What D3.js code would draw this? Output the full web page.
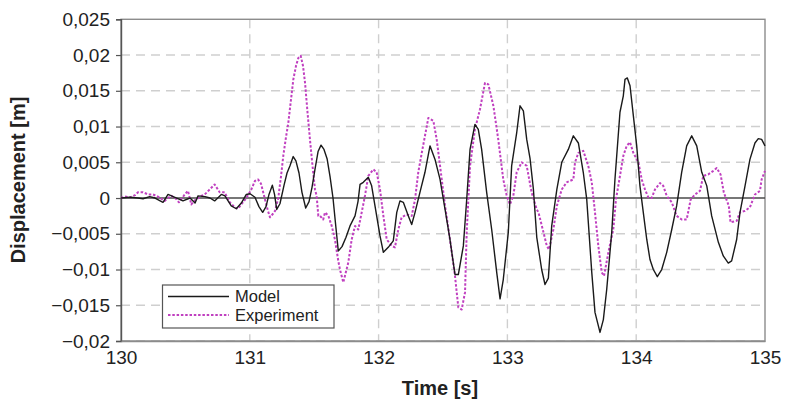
<!DOCTYPE html>
<html>
<head>
<meta charset="utf-8">
<script src="https://cdn.jsdelivr.net/npm/d3@7/dist/d3.min.js"></script>
<style>
  html, body { margin: 0; padding: 0; background: #fff; }
  svg { display: block; font-family: "Liberation Sans", Arial, sans-serif; }
</style>
</head>
<body>
<svg id="chart" width="790" height="405"></svg>
<script>
// Model response: time [s] and displacement [m]
const modelTime = [
  130.000,130.070,130.132,130.171,130.223,130.264,130.326,130.365,130.419,130.481,
  130.536,130.575,130.598,130.652,130.691,130.727,130.779,130.807,130.856,130.895,
  130.934,130.973,131.002,131.040,131.071,131.100,131.126,131.149,131.175,131.192,
  131.209,131.234,131.266,131.289,131.312,131.337,131.358,131.382,131.405,131.434,
  131.460,131.483,131.506,131.530,131.553,131.576,131.600,131.623,131.646,131.669,
  131.687,131.716,131.747,131.778,131.817,131.840,131.856,131.881,131.920,131.946,
  131.972,132.011,132.037,132.075,132.114,132.141,132.166,132.192,132.231,132.257,
  132.283,132.321,132.360,132.399,132.438,132.477,132.516,132.554,132.593,132.619,
  132.658,132.684,132.710,132.748,132.774,132.800,132.839,132.878,132.917,132.943,
  132.968,133.007,133.033,133.072,133.098,133.124,133.150,133.176,133.202,133.228,
  133.266,133.292,133.318,133.344,133.384,133.422,133.473,133.512,133.551,133.589,
  133.616,133.655,133.680,133.719,133.745,133.771,133.810,133.835,133.874,133.900,
  133.913,133.931,133.952,133.978,134.004,134.029,134.055,134.082,134.107,134.133,
  134.164,134.198,134.237,134.276,134.314,134.353,134.392,134.431,134.470,134.509,
  134.548,134.586,134.638,134.676,134.715,134.741,134.780,134.806,134.845,134.883,
  134.922,134.948,134.974,135.000
];
const modelDisp = [
  0.0000,0.0001,0.0000,-0.0001,0.0002,0.0000,-0.0006,0.0005,0.0001,-0.0004,
  0.0000,-0.0007,0.0003,0.0002,0.0000,-0.0004,0.0005,0.0003,-0.0011,-0.0015,
  -0.0007,0.0005,0.0006,0.0001,-0.0012,-0.0020,-0.0012,0.0005,0.0018,0.0005,
  -0.0016,-0.0008,0.0018,0.0035,0.0045,0.0058,0.0052,0.0035,0.0008,-0.0014,
  -0.0005,0.0015,0.0040,0.0065,0.0074,0.0068,0.0055,0.0030,0.0000,-0.0042,
  -0.0074,-0.0068,-0.0055,-0.0039,-0.0025,-0.0005,0.0019,0.0022,0.0029,0.0017,
  -0.0011,-0.0053,-0.0076,-0.0069,-0.0060,-0.0020,-0.0004,-0.0006,-0.0025,-0.0037,
  -0.0020,0.0008,0.0036,0.0073,0.0054,0.0026,-0.0016,-0.0058,-0.0107,-0.0107,
  -0.0067,-0.0002,0.0068,0.0103,0.0096,0.0068,0.0008,-0.0044,-0.0104,-0.0141,
  -0.0114,-0.0048,0.0045,0.0091,0.0129,0.0122,0.0082,0.0055,0.0012,-0.0055,
  -0.0100,-0.0121,-0.0112,-0.0039,0.0012,0.0050,0.0068,0.0087,0.0077,0.0036,
  -0.0002,-0.0104,-0.0160,-0.0188,-0.0170,-0.0128,-0.0048,0.0026,0.0120,0.0143,
  0.0166,0.0168,0.0157,0.0115,0.0073,0.0017,-0.0020,-0.0058,-0.0086,-0.0100,
  -0.0110,-0.0100,-0.0076,-0.0044,-0.0011,0.0036,0.0073,0.0087,0.0073,0.0036,
  0.0017,-0.0025,-0.0062,-0.0081,-0.0091,-0.0088,-0.0058,-0.0020,0.0017,0.0054,
  0.0077,0.0083,0.0082,0.0073
];

// Measured response: time [s] and displacement [m]
const expTime = [
  130.000,130.031,130.070,130.109,130.132,130.171,130.210,130.248,130.287,130.339,
  130.365,130.391,130.427,130.450,130.495,130.520,130.546,130.575,130.623,130.650,
  130.689,130.727,130.766,130.805,130.844,130.883,130.908,130.934,130.973,131.012,
  131.040,131.064,131.087,131.118,131.141,131.157,131.180,131.196,131.221,131.242,
  131.260,131.281,131.299,131.320,131.338,131.359,131.377,131.395,131.413,131.429,
  131.448,131.467,131.487,131.506,131.519,131.532,131.545,131.570,131.584,131.610,
  131.636,131.661,131.687,131.700,131.726,131.765,131.791,131.817,131.842,131.869,
  131.894,131.920,131.959,131.985,132.011,132.037,132.063,132.102,132.127,132.153,
  132.179,132.218,132.257,132.283,132.308,132.335,132.360,132.386,132.425,132.451,
  132.477,132.516,132.554,132.593,132.619,132.645,132.671,132.684,132.710,132.748,
  132.787,132.826,132.852,132.891,132.929,132.968,132.995,133.020,133.046,133.072,
  133.111,133.150,133.188,133.228,133.241,133.280,133.306,133.323,133.357,133.384,
  133.422,133.460,133.512,133.525,133.551,133.589,133.628,133.655,133.680,133.706,
  133.732,133.750,133.784,133.822,133.843,133.874,133.900,133.926,133.952,133.978,
  134.017,134.043,134.068,134.094,134.120,134.146,134.185,134.210,134.237,134.276,
  134.314,134.353,134.392,134.423,134.457,134.495,134.521,134.559,134.599,134.625,
  134.655,134.680,134.719,134.732,134.780,134.806,134.845,134.883,134.922,134.961,
  134.974,135.000
];
const expDisp = [
  0.0000,0.0002,0.0001,0.0004,0.0008,0.0008,0.0005,0.0005,0.0002,-0.0004,
  0.0000,0.0003,-0.0001,-0.0006,0.0005,0.0010,-0.0009,-0.0003,0.0003,0.0005,
  0.0012,0.0019,0.0008,0.0008,-0.0006,-0.0013,-0.0015,-0.0009,0.0000,0.0012,
  0.0024,0.0026,0.0020,-0.0002,-0.0018,-0.0027,-0.0022,-0.0018,0.0000,0.0030,
  0.0059,0.0085,0.0105,0.0138,0.0166,0.0185,0.0196,0.0199,0.0185,0.0161,
  0.0120,0.0082,0.0045,0.0012,0.0003,-0.0025,-0.0025,-0.0030,-0.0020,-0.0025,
  -0.0039,-0.0058,-0.0088,-0.0100,-0.0118,-0.0090,-0.0058,-0.0039,-0.0044,-0.0020,
  0.0003,0.0031,0.0040,0.0036,0.0012,-0.0025,-0.0058,-0.0067,-0.0069,-0.0044,
  -0.0027,-0.0023,-0.0025,-0.0002,0.0036,0.0063,0.0087,0.0112,0.0108,0.0082,
  0.0045,-0.0011,-0.0058,-0.0109,-0.0153,-0.0156,-0.0132,-0.0048,0.0045,0.0096,
  0.0124,0.0161,0.0159,0.0129,0.0082,0.0026,0.0003,-0.0009,0.0003,0.0036,
  0.0050,0.0045,0.0008,-0.0016,-0.0020,-0.0048,-0.0067,-0.0072,-0.0044,-0.0011,
  0.0012,0.0022,0.0026,0.0050,0.0063,0.0066,0.0045,0.0022,-0.0020,-0.0067,
  -0.0104,-0.0109,-0.0076,-0.0044,-0.0002,0.0031,0.0059,0.0073,0.0078,0.0063,
  0.0050,0.0026,0.0012,0.0001,0.0000,0.0012,0.0021,0.0017,0.0003,-0.0006,
  -0.0025,-0.0030,-0.0030,-0.0002,0.0005,0.0010,0.0031,0.0033,0.0038,0.0042,
  0.0033,0.0008,-0.0011,-0.0034,-0.0032,-0.0020,-0.0018,-0.0013,0.0005,0.0010,
  0.0026,0.0038
];

// Axis ticks and labels
const xTicks = [130, 131, 132, 133, 134, 135];
const yTicks = [0.025, 0.02, 0.015, 0.01, 0.005, 0, -0.005, -0.01, -0.015, -0.02];
const yTickLabels = ["0,025", "0,02", "0,015", "0,01", "0,005", "0", "\u22120,005", "\u22120,01", "\u22120,015", "\u22120,02"];
const seriesNames = ["Model", "Experiment"];

const svg = d3.select("#chart");
const plotLeft = 121, plotRight = 765, plotTop = 19.3, plotBottom = 341;

const x = d3.scaleLinear().domain([130, 135]).range([plotLeft, plotRight]);
const y = d3.scaleLinear().domain([-0.02, 0.025]).range([plotBottom, plotTop]);

// Dashed grid
const grid = svg.append("g");
grid.selectAll("line.h").data(yTicks.filter(v => v !== 0 && v !== 0.025)).join("line")
  .attr("class", "h")
  .attr("x1", plotLeft).attr("x2", plotRight)
  .attr("y1", d => y(d)).attr("y2", d => y(d))
  .attr("stroke", "#cfcfcf").attr("stroke-width", 1.4).attr("stroke-dasharray", "9,6");
grid.selectAll("line.v").data(xTicks.filter(v => v !== 130 && v !== 135)).join("line")
  .attr("class", "v")
  .attr("y1", plotTop).attr("y2", plotBottom)
  .attr("x1", d => x(d)).attr("x2", d => x(d))
  .attr("stroke", "#cfcfcf").attr("stroke-width", 1.4).attr("stroke-dasharray", "9,6");

// Plot frame
svg.append("rect").attr("x", plotLeft).attr("y", plotTop)
  .attr("width", plotRight - plotLeft).attr("height", plotBottom - plotTop)
  .attr("fill", "none").attr("stroke", "#8c8c8c").attr("stroke-width", 1.4);

// Zero line
svg.append("line").attr("x1", plotLeft).attr("x2", plotRight)
  .attr("y1", y(0)).attr("y2", y(0))
  .attr("stroke", "#4a4a4a").attr("stroke-width", 1.4);

// Y axis
const yAxis = d3.axisLeft(y).tickValues(yTicks)
  .tickFormat((d, i) => yTickLabels[i]).tickSize(5).tickPadding(6);
const gy = svg.append("g").attr("transform", `translate(${plotLeft},0)`).call(yAxis);
gy.select(".domain").attr("stroke", "#555").attr("stroke-width", 1.4);
gy.selectAll(".tick line").attr("stroke", "#555").attr("stroke-width", 1.2);
gy.selectAll(".tick text").attr("font-size", 19).attr("fill", "#222")
  .attr("font-family", "'Liberation Sans', Arial, sans-serif");

// X axis
const xAxis = d3.axisBottom(x).tickValues(xTicks).tickFormat(d3.format("d"))
  .tickSize(0).tickPadding(10);
const gx = svg.append("g").attr("transform", `translate(0,${plotBottom})`).call(xAxis);
gx.select(".domain").attr("stroke", "#8c8c8c").attr("stroke-width", 1.4);
gx.selectAll(".tick text").attr("font-size", 19).attr("fill", "#222")
  .attr("font-family", "'Liberation Sans', Arial, sans-serif");

// Axis titles
svg.append("text").attr("x", (plotLeft + plotRight) / 2 - 3).attr("y", 395)
  .attr("text-anchor", "middle").attr("font-size", 20).attr("font-weight", "bold")
  .attr("fill", "#222").text("Time [s]");
svg.append("text").attr("transform", "translate(25,180) rotate(-90)")
  .attr("text-anchor", "middle").attr("font-size", 20).attr("font-weight", "bold")
  .attr("fill", "#222").text("Displacement [m]");

// Series
const line = d3.line().x(d => x(d[0])).y(d => y(d[1]));
const expData = expTime.map((t, i) => [t, expDisp[i]]);
const modelData = modelTime.map((t, i) => [t, modelDisp[i]]);

svg.append("path").datum(expData).attr("d", line)
  .attr("fill", "none").attr("stroke", "#c040c0").attr("stroke-width", 2)
  .attr("stroke-dasharray", "2.5,1.8").attr("stroke-linejoin", "round");
svg.append("path").datum(modelData).attr("d", line)
  .attr("fill", "none").attr("stroke", "#1a1a1a").attr("stroke-width", 1.4)
  .attr("stroke-linejoin", "round");

// Legend
const lg = svg.append("g");
lg.append("rect").attr("x", 162.5).attr("y", 285).attr("width", 171.5).attr("height", 43)
  .attr("fill", "#fff").attr("stroke", "#555").attr("stroke-width", 1.2);
lg.append("line").attr("x1", 168).attr("x2", 229).attr("y1", 296.5).attr("y2", 296.5)
  .attr("stroke", "#1a1a1a").attr("stroke-width", 1.6);
lg.append("line").attr("x1", 168).attr("x2", 229).attr("y1", 315).attr("y2", 315)
  .attr("stroke", "#c040c0").attr("stroke-width", 2).attr("stroke-dasharray", "2.5,1.8");
lg.selectAll("text").data(seriesNames).join("text")
  .attr("x", 235).attr("y", (d, i) => 302 + i * 19)
  .attr("font-size", 16.5).attr("fill", "#222").text(d => d);
</script>
</body>
</html>
